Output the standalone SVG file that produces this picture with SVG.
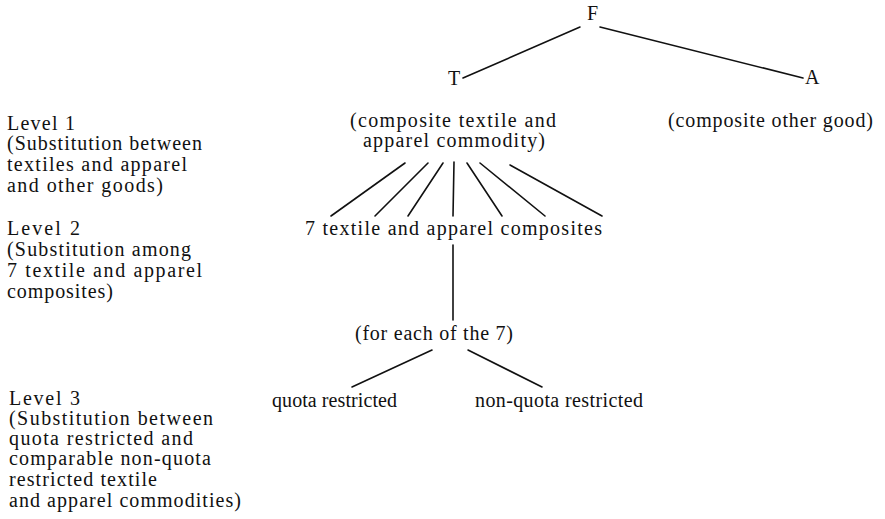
<svg xmlns="http://www.w3.org/2000/svg" width="885" height="519" viewBox="0 0 885 519">
<style>
text{font-family:"Liberation Serif","Times New Roman",serif;font-size:20px;fill:#111}
.c line{stroke:#111;stroke-width:1.6;stroke-linecap:round}
</style>
<rect width="885" height="519" fill="#fff"/>
<g class="c" id="connectors">
<line x1="580" y1="27" x2="463" y2="78"/>
<line x1="600" y1="27" x2="803" y2="78"/>
<line x1="405" y1="163" x2="331" y2="216"/>
<line x1="428" y1="163" x2="375" y2="216"/>
<line x1="443" y1="163" x2="408" y2="216"/>
<line x1="454" y1="162" x2="453" y2="216"/>
<line x1="467" y1="163" x2="502" y2="216"/>
<line x1="480" y1="163" x2="545" y2="216"/>
<line x1="510" y1="165" x2="602" y2="216"/>
<line x1="453" y1="245" x2="453" y2="320"/>
<line x1="432" y1="350" x2="352" y2="387"/>
<line x1="468" y1="350" x2="542" y2="387"/>
</g>
<g id="F"><text x="587" y="20">F</text></g>
<g id="T"><text x="448" y="85">T</text></g>
<g id="A"><text x="805" y="84">A</text></g>
<g id="composite-textile">
<text x="350" y="127" textLength="206" lengthAdjust="spacing">(composite textile and</text>
<text x="363" y="147" textLength="182" lengthAdjust="spacing">apparel commodity)</text>
</g>
<g id="composite-other"><text x="668" y="127" textLength="205" lengthAdjust="spacing">(composite other good)</text></g>
<g id="seven-composites"><text x="305" y="235" textLength="297" lengthAdjust="spacing">7 textile and apparel composites</text></g>
<g id="for-each"><text x="355" y="340" textLength="158" lengthAdjust="spacing">(for each of the 7)</text></g>
<g id="quota"><text x="272" y="407" textLength="125" lengthAdjust="spacing">quota restricted</text></g>
<g id="non-quota"><text x="475" y="407" textLength="168" lengthAdjust="spacing">non-quota restricted</text></g>
<g id="level1">
<text x="7" y="130" textLength="68" lengthAdjust="spacing">Level 1</text>
<text x="7" y="150" textLength="195" lengthAdjust="spacing">(Substitution between</text>
<text x="7" y="171" textLength="180" lengthAdjust="spacing">textiles and apparel</text>
<text x="7" y="192" textLength="156" lengthAdjust="spacing">and other goods)</text>
</g>
<g id="level2">
<text x="7" y="235" textLength="73" lengthAdjust="spacing">Level 2</text>
<text x="7" y="256" textLength="184" lengthAdjust="spacing">(Substitution among</text>
<text x="7" y="277" textLength="195" lengthAdjust="spacing">7 textile and apparel</text>
<text x="7" y="298" textLength="106" lengthAdjust="spacing">composites)</text>
</g>
<g id="level3">
<text x="9" y="405" textLength="71" lengthAdjust="spacing">Level 3</text>
<text x="9" y="425" textLength="204" lengthAdjust="spacing">(Substitution between</text>
<text x="9" y="445" textLength="184" lengthAdjust="spacing">quota restricted and</text>
<text x="9" y="465" textLength="202" lengthAdjust="spacing">comparable non-quota</text>
<text x="9" y="486" textLength="148" lengthAdjust="spacing">restricted textile</text>
<text x="9" y="507" textLength="232" lengthAdjust="spacing">and apparel commodities)</text>
</g>
</svg>
